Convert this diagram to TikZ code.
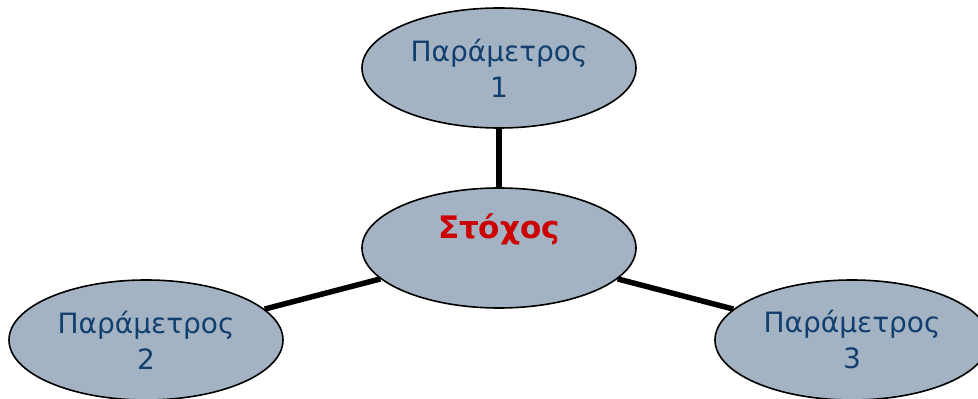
\documentclass[tikz,border=0pt]{standalone}
\usepackage{fontspec}
\setmainfont{DejaVu Sans}
\usepackage{xcolor}
\usetikzlibrary{shapes.geometric}

\definecolor{bubble}{HTML}{A3B3C3}
\definecolor{bubbletext}{HTML}{123F6E}
\definecolor{goalred}{HTML}{CC0000}

\tikzset{
	param/.style={ellipse, draw=black, line width=1.6pt, fill=bubble, minimum width=274pt, minimum height=120pt, inner sep=0pt, align=center, text=bubbletext, font=\fontsize{28}{36}\selectfont},
	link/.style={line width=5.5pt, black}
}

\begin{document}
\begin{tikzpicture}[x=1pt,y=1pt]
	\useasboundingbox (0,0) rectangle (978,399);
	\node[param] (c) at (499,151) {};
	\node[param] (p1) at (499,331) {Παράμετρος\\1};
	\node[param] (p2) at (146,59) {Παράμετρος\\2};
	\node[param] (p3) at (852,59) {Παράμετρος\\3};
	\node[text=goalred, font=\fontsize{31}{34}\bfseries\selectfont] (goal) at (499,170) {Στόχος};
	
	\draw[link] (c) -- (p1);
	\draw[link] (c) -- (p2);
	\draw[link] (c) -- (p3);
\end{tikzpicture}
\end{document}
